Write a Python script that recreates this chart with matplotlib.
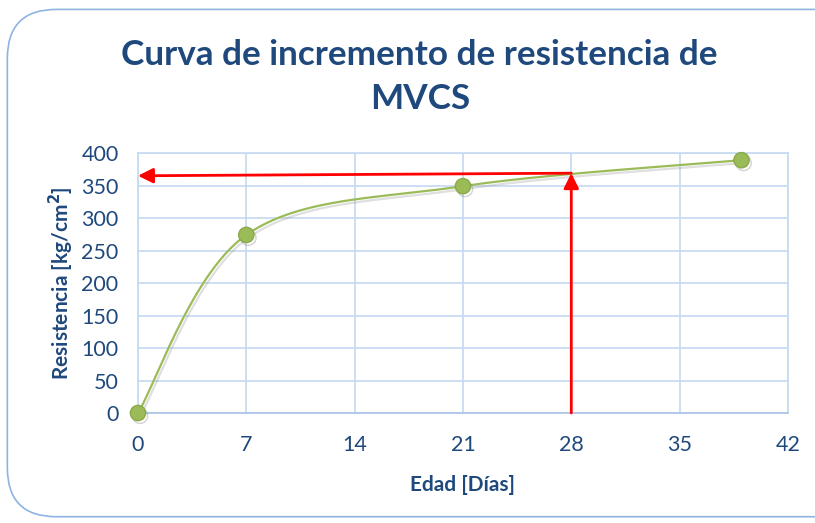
import numpy as np
import matplotlib.pyplot as plt
from matplotlib.patches import FancyBboxPatch
import matplotlib.patheffects as pe

# datos de ensayo
edad = [0, 7, 21, 39]
resistencia = [0, 274, 349, 389]
x_ticks = [0, 7, 14, 21, 28, 35, 42]
y_ticks = [0, 50, 100, 150, 200, 250, 300, 350, 400]

# lectura a los 28 dias
dia_lectura = 28
res_lectura = 369
res_eje = 365

AZUL = '#1F497D'
VERDE = '#9BBB59'
REJILLA = '#C6D9F1'

plt.rcParams['font.family'] = ['Lato', 'DejaVu Sans']


def curva_suave(x, y, n=60):
    # curva tipo Excel (Bezier con tangentes de Catmull-Rom)
    x = np.asarray(x, float)
    y = np.asarray(y, float)
    px, py = [], []
    for i in range(len(x) - 1):
        x0, y0 = (x[i - 1], y[i - 1]) if i > 0 else (x[i], y[i])
        x3, y3 = (x[i + 2], y[i + 2]) if i + 2 < len(x) else (x[i + 1], y[i + 1])
        c1x = x[i] + (x[i + 1] - x0) / 6
        c1y = y[i] + (y[i + 1] - y0) / 6
        c2x = x[i + 1] - (x3 - x[i]) / 6
        c2y = y[i + 1] - (y3 - y[i]) / 6
        t = np.linspace(0, 1, n)
        b = [(1 - t) ** 3, 3 * (1 - t) ** 2 * t, 3 * (1 - t) * t ** 2, t ** 3]
        px.append(b[0] * x[i] + b[1] * c1x + b[2] * c2x + b[3] * x[i + 1])
        py.append(b[0] * y[i] + b[1] * c1y + b[2] * c2y + b[3] * y[i + 1])
    return np.concatenate(px), np.concatenate(py)


fig = plt.figure(figsize=(8.15, 5.23), dpi=100)

# marco redondeado del grafico
marco = FancyBboxPatch((0.009, 0.012), 1.05, 0.97, boxstyle='round,pad=0,rounding_size=0.06',
                       transform=fig.transFigure, facecolor='white', edgecolor='#8DB4E2',
                       linewidth=1.2, mutation_aspect=815 / 523, zorder=-5)
fig.patches.append(marco)

ax = fig.add_axes([0.1693, 0.2103, 0.7975, 0.4971])
ax.patch.set_alpha(0)
ax.set_xlim(0, 42)
ax.set_ylim(0, 400)
ax.set_xticks(x_ticks)
ax.set_yticks(y_ticks)
ax.grid(True, color=REJILLA, linewidth=1.2)
ax.set_axisbelow(True)
for s in ax.spines.values():
    s.set_color(REJILLA)
    s.set_linewidth(1.2)
ax.spines['bottom'].set_color('#A7C4E8')
ax.tick_params(length=0, labelsize=15.5, colors=AZUL)
ax.tick_params(axis='y', pad=14)
ax.tick_params(axis='x', pad=16)

sx, sy = curva_suave(edad, resistencia)
sombra = [pe.SimpleLineShadow(offset=(1.5, -2), alpha=0.25, shadow_color='gray'), pe.Normal()]
ax.plot(sx, sy, color=VERDE, linewidth=1.6, path_effects=sombra, zorder=3)
ax.plot(edad, resistencia, 'o', color=VERDE, markeredgecolor='#8AAA4A', markersize=11,
        path_effects=[pe.SimpleLineShadow(offset=(1.5, -2), alpha=0.35, shadow_color='gray'), pe.Normal()],
        zorder=4, clip_on=False)

# flechas de lectura
ax.annotate('', xy=(dia_lectura, res_lectura), xytext=(dia_lectura, 0),
            arrowprops=dict(arrowstyle='-|>,head_width=0.45,head_length=0.9', color='red', lw=2,
                            shrinkA=0, shrinkB=0), zorder=5)
ax.annotate('', xy=(0, res_eje), xytext=(dia_lectura, res_lectura),
            arrowprops=dict(arrowstyle='-|>,head_width=0.45,head_length=0.9', color='red', lw=2,
                            shrinkA=0, shrinkB=0), zorder=5)

ax.set_xlabel('Edad [Días]', fontsize=15, fontweight='bold', color=AZUL, labelpad=14)
ax.set_ylabel('Resistencia [kg/cm$^\\mathbf{2}$]', fontsize=15, fontweight='bold', color=AZUL, labelpad=4)

fig.text(0.515, 0.853, 'Curva de incremento de resistencia de\nMVCS', ha='center', va='center',
         fontsize=25.3, fontweight='bold', color=AZUL, linespacing=1.45)

fig.savefig('out.png', dpi=100)
